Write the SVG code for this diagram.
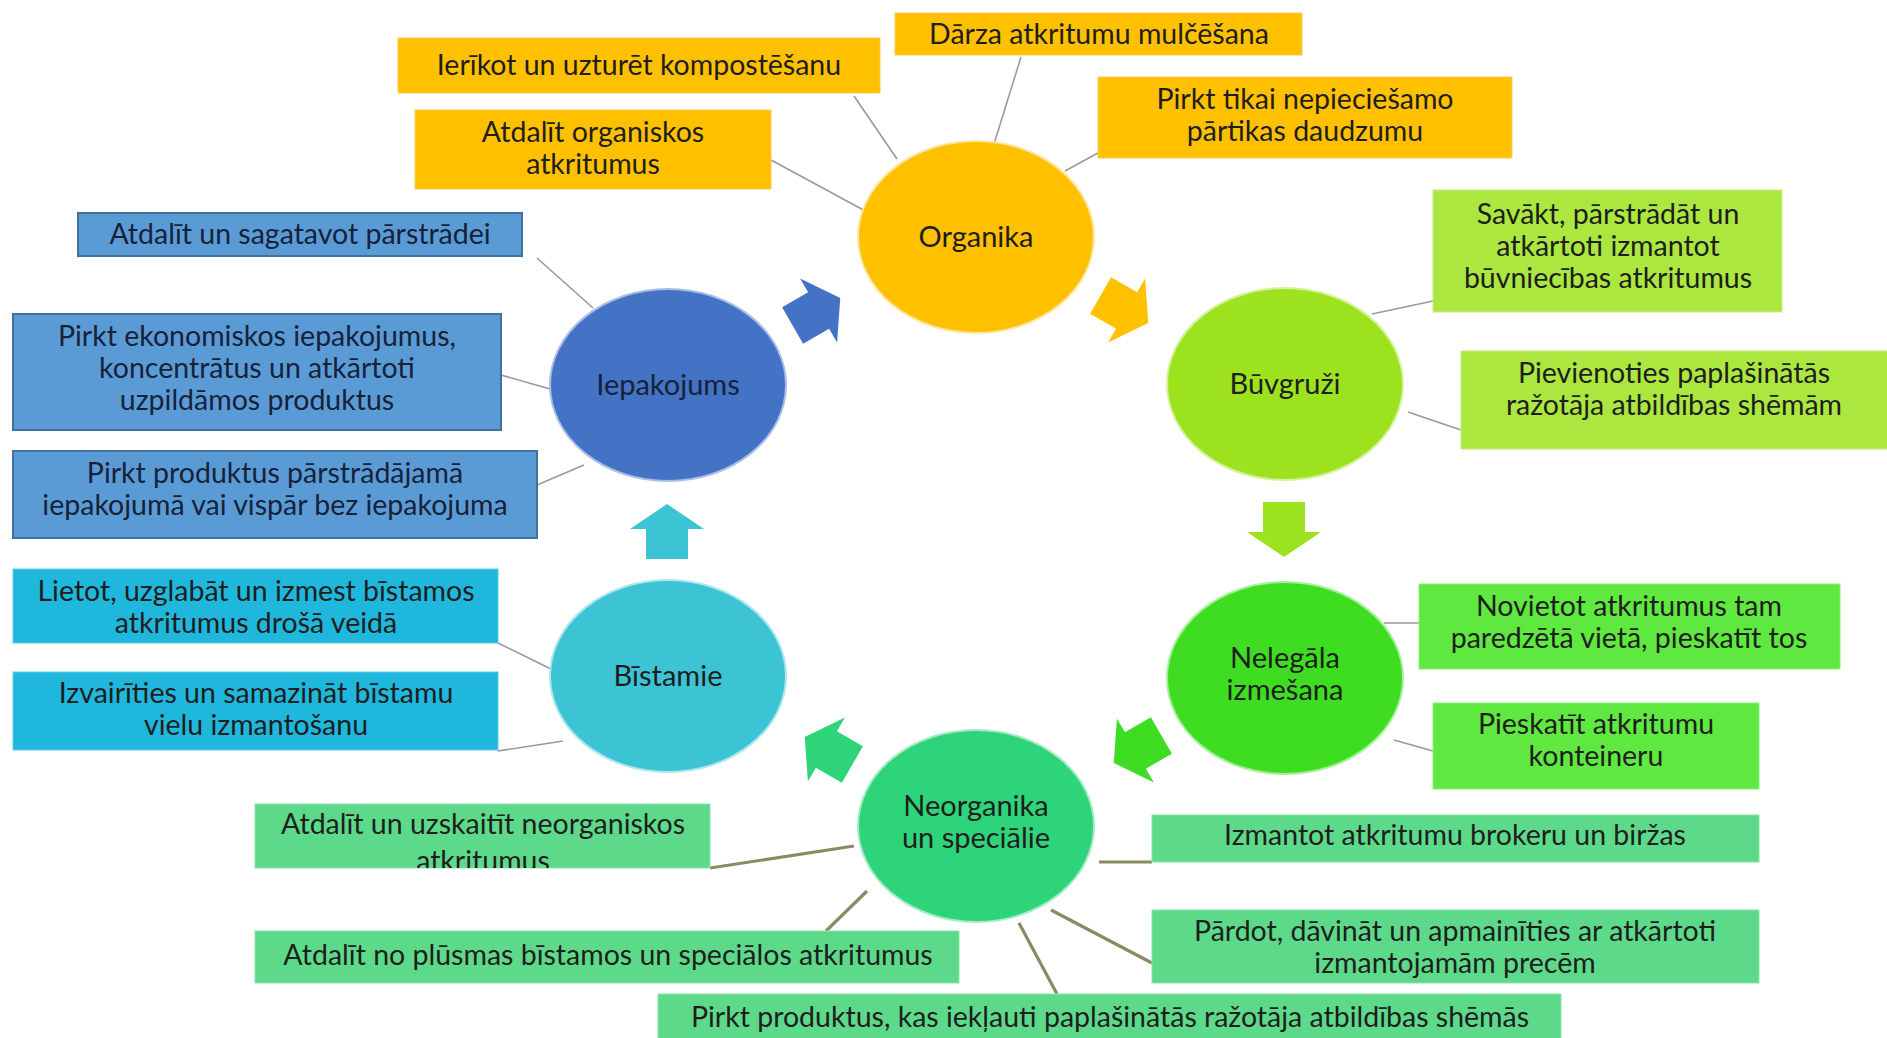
<svg xmlns="http://www.w3.org/2000/svg" width="1887" height="1038" viewBox="0 0 1887 1038">
<style>
text{font-family:Lato,"Open Sans","Liberation Sans",sans-serif;font-size:28.5px;fill:#1e1e1e;text-anchor:middle}
.lbl{font-size:29px}
.con{stroke:#9a9a9a;stroke-width:1.6;fill:none}
.con2{stroke:#8c8a62;stroke-width:3.2;fill:none}
.org{fill:#FFC000;stroke:#f5ce55;stroke-width:1}
.blu{fill:#5B9BD5;stroke:#41719C;stroke-width:2}
.lim{fill:#ABE73E;stroke:#c4ef7c;stroke-width:1}
.grn{fill:#5FE83F;stroke:#8ef07a;stroke-width:1}
.neo{fill:#5DD98A;stroke:#8be3aa;stroke-width:1}
.cya{fill:#1FB8DC;stroke:#5fcfe8;stroke-width:1}
.blt text{fill:#16223a}
</style>
<defs>
<path id="arr" d="M28,0 L3,-37 L3,-21 L-27,-21 L-27,21 L3,21 L3,37 Z"/>
<clipPath id="clipU"><rect x="255" y="804" width="455" height="64"/></clipPath>
</defs>
<rect width="1887" height="1038" fill="#ffffff"/>

<g id="connectors">
<line class="con" x1="854" y1="96" x2="897" y2="159"/>
<line class="con" x1="1021" y1="57" x2="994" y2="144"/>
<line class="con" x1="1098" y1="153" x2="1065" y2="171"/>
<line class="con" x1="771" y1="160" x2="869" y2="213"/>
<line class="con" x1="537" y1="258" x2="593" y2="308"/>
<line class="con" x1="501" y1="375" x2="550" y2="389"/>
<line class="con" x1="537" y1="485" x2="584" y2="465"/>
<line class="con" x1="1433" y1="301" x2="1372" y2="314"/>
<line class="con" x1="1461" y1="430" x2="1408" y2="412"/>
<line class="con" x1="1419" y1="623" x2="1384" y2="623"/>
<line class="con" x1="1433" y1="751" x2="1394" y2="740"/>
<line class="con" x1="498" y1="643" x2="551" y2="669"/>
<line class="con" x1="498" y1="751" x2="563" y2="741"/>
<line class="con2" x1="710" y1="868" x2="854" y2="846"/>
<line class="con2" x1="1099" y1="862" x2="1152" y2="862"/>
<line class="con2" x1="826" y1="931" x2="867" y2="891"/>
<line class="con2" x1="1057" y1="994" x2="1019" y2="923"/>
<line class="con2" x1="1152" y1="963" x2="1051" y2="910"/>
<use href="#arr" transform="translate(816,312) rotate(-30)" fill="#4472C4"/>
<use href="#arr" transform="translate(1124,309) rotate(30)" fill="#FFC000"/>
<use href="#arr" transform="translate(1284,529) rotate(90)" fill="#9DE21F"/>
<use href="#arr" transform="translate(1138,749) rotate(150)" fill="#3EDD22"/>
<use href="#arr" transform="translate(829,751) rotate(210)" fill="#2ED47A"/>
<use href="#arr" transform="translate(667,532) rotate(270)" fill="#3CC4D4"/>
</g>

<g id="organika"><ellipse cx="976" cy="237" rx="118" ry="96" fill="#FFC000" stroke="#fde7a0" stroke-width="2"/><text class="lbl" x="976" y="247">Organika</text></g>
<g id="iepakojums" class="blt"><ellipse cx="668" cy="385" rx="118" ry="96" fill="#4472C4" stroke="#a9bde6" stroke-width="2"/><text class="lbl" x="668" y="395">Iepakojums</text></g>
<g id="buvgruzi"><ellipse cx="1285" cy="384" rx="118" ry="96" fill="#9DE21F" stroke="#d3f39a" stroke-width="2"/><text class="lbl" x="1285" y="394">Būvgruži</text></g>
<g id="nelegala"><ellipse cx="1285" cy="678" rx="118" ry="96" fill="#3EDD22" stroke="#a5f09a" stroke-width="2"/><text class="lbl" x="1285" y="668">Nelegāla</text><text class="lbl" x="1285" y="700">izmešana</text></g>
<g id="neorganika"><ellipse cx="976" cy="826" rx="118" ry="96" fill="#2ED47A" stroke="#a3ecc4" stroke-width="2"/><text class="lbl" x="976" y="816">Neorganika</text><text class="lbl" x="976" y="848">un speciālie</text></g>
<g id="bistamie"><ellipse cx="668" cy="676" rx="118" ry="96" fill="#3CC4D4" stroke="#aee7ee" stroke-width="2"/><text class="lbl" x="668" y="686">Bīstamie</text></g>

<g id="o1"><rect class="org" x="398" y="38" width="482" height="55"/><text x="639" y="75">Ierīkot un uzturēt kompostēšanu</text></g>
<g id="o2"><rect class="org" x="895" y="13" width="407" height="42"/><text x="1099" y="44">Dārza atkritumu mulčēšana</text></g>
<g id="o3"><rect class="org" x="1098" y="77" width="414" height="81"/><text x="1305" y="109">Pirkt tikai nepieciešamo</text><text x="1305" y="141">pārtikas daudzumu</text></g>
<g id="o4"><rect class="org" x="415" y="110" width="356" height="79"/><text x="593" y="142">Atdalīt organiskos</text><text x="593" y="174">atkritumus</text></g>

<g id="b1" class="blt"><rect class="blu" x="78" y="213" width="444" height="43"/><text x="300" y="244">Atdalīt un sagatavot pārstrādei</text></g>
<g id="b2" class="blt"><rect class="blu" x="13" y="314" width="488" height="116"/><text x="257" y="346">Pirkt ekonomiskos iepakojumus,</text><text x="257" y="378">koncentrātus un atkārtoti</text><text x="257" y="410">uzpildāmos produktus</text></g>
<g id="b3" class="blt"><rect class="blu" x="13" y="451" width="524" height="87"/><text x="275" y="483">Pirkt produktus pārstrādājamā</text><text x="275" y="515">iepakojumā vai vispār bez iepakojuma</text></g>

<g id="l1"><rect class="lim" x="1433" y="190" width="349" height="122"/><text x="1608" y="224">Savākt, pārstrādāt un</text><text x="1608" y="256">atkārtoti izmantot</text><text x="1608" y="288">būvniecības atkritumus</text></g>
<g id="l2"><rect class="lim" x="1461" y="351" width="430" height="98"/><text x="1674" y="383">Pievienoties paplašinātās</text><text x="1674" y="415">ražotāja atbildības shēmām</text></g>

<g id="g1"><rect class="grn" x="1419" y="584" width="421" height="85"/><text x="1629" y="616">Novietot atkritumus tam</text><text x="1629" y="648">paredzētā vietā, pieskatīt tos</text></g>
<g id="g2"><rect class="grn" x="1433" y="703" width="326" height="86"/><text x="1596" y="734">Pieskatīt atkritumu</text><text x="1596" y="766">konteineru</text></g>

<g id="n1"><rect class="neo" x="1152" y="815" width="607" height="47"/><text x="1455" y="845">Izmantot atkritumu brokeru un biržas</text></g>
<g id="n2"><rect class="neo" x="1152" y="910" width="607" height="73"/><text x="1455" y="941">Pārdot, dāvināt un apmainīties ar atkārtoti</text><text x="1455" y="973">izmantojamām precēm</text></g>
<g id="n3"><rect class="neo" x="658" y="994" width="903" height="50"/><text x="1110" y="1027">Pirkt produktus, kas iekļauti paplašinātās ražotāja atbildības shēmās</text></g>
<g id="n4"><rect class="neo" x="255" y="931" width="704" height="52"/><text x="608" y="965">Atdalīt no plūsmas bīstamos un speciālos atkritumus</text></g>
<g id="n5"><rect class="neo" x="255" y="804" width="455" height="64"/><g clip-path="url(#clipU)"><text x="483" y="834">Atdalīt un uzskaitīt neorganiskos</text><text x="483" y="871">atkritumus</text></g></g>

<g id="c1"><rect class="cya" x="13" y="569" width="485" height="74"/><text x="256" y="601">Lietot, uzglabāt un izmest bīstamos</text><text x="256" y="633">atkritumus drošā veidā</text></g>
<g id="c2"><rect class="cya" x="13" y="672" width="485" height="78"/><text x="256" y="703">Izvairīties un samazināt bīstamu</text><text x="256" y="735">vielu izmantošanu</text></g>
</svg>
